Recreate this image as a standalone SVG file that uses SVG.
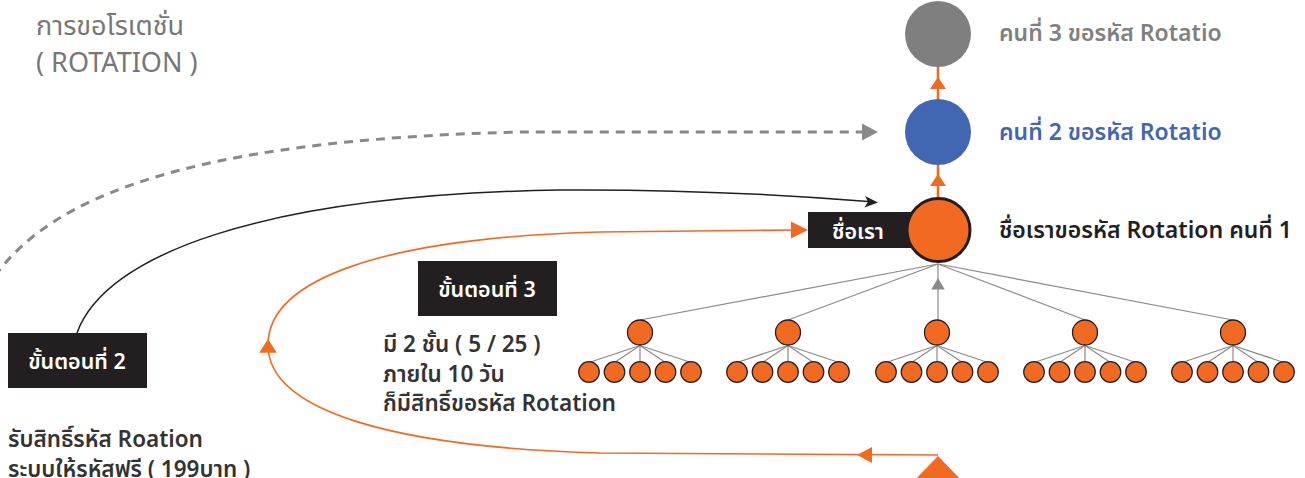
<svg xmlns="http://www.w3.org/2000/svg" width="1305" height="478" viewBox="0 0 1305 478">
<style>
text{font-family:"Noto Sans Thai","Noto Sans","DejaVu Sans",sans-serif}
.title{font-size:27px;fill:#777777}
.lbl{font-size:23px;font-weight:600}
.box{fill:#231f20}
.boxt{font-size:21.5px;font-weight:600;fill:#ffffff}
.body{font-size:22.5px;font-weight:600;fill:#333333}
.l1{fill:#f26a21;stroke:#231f20;stroke-width:1.3}
.l2{fill:#f26a21;stroke:#231f20;stroke-width:1.2}
.tl{stroke:#8a8a8a;stroke-width:1.2;fill:none}
.or{stroke:#f26a21;stroke-width:1.6;fill:none}
.orf{fill:#f26a21}
</style>
<defs>
<path id="up" d="M0,0 L8,12 L-8,12 Z"/>
<g id="grp">
<line class="tl" x1="0" y1="13" x2="-51" y2="30"/>
<line class="tl" x1="0" y1="13" x2="-25.5" y2="30"/>
<line class="tl" x1="0" y1="13" x2="0" y2="30"/>
<line class="tl" x1="0" y1="13" x2="25.5" y2="30"/>
<line class="tl" x1="0" y1="13" x2="51" y2="30"/>
<circle class="l1" cx="0" cy="0" r="12.5"/>
<circle class="l2" cx="-51" cy="39.5" r="10.3"/>
<circle class="l2" cx="-25.5" cy="39.5" r="10.3"/>
<circle class="l2" cx="0" cy="39.5" r="10.3"/>
<circle class="l2" cx="25.5" cy="39.5" r="10.3"/>
<circle class="l2" cx="51" cy="39.5" r="10.3"/>
</g>
</defs>

<g id="title">
<text class="title" x="36" y="35">การขอโรเตชั่น</text>
<text class="title" x="36" y="72">( ROTATION )</text>
</g>

<g id="connectors">
<path d="M-5,276 C50,200 180,140 520,132 L864,132" fill="none" stroke="#898989" stroke-width="3" stroke-dasharray="9 7"/>
<path d="M878,132 L862,123.5 L862,140.5 Z" fill="#898989"/>
<path d="M77,333 C105,255 260,195 560,190 C700,189 800,196 868,201.5" fill="none" stroke="#231f20" stroke-width="1.5"/>
<path d="M878,202.5 L865,196 L868,201.7 L864.5,207.5 Z" fill="#231f20"/>
<path class="or" d="M938,455 L600,453 C390,447 268,410 268,345 C268,280 380,238 600,232 L795,230"/>
<path class="orf" d="M808,230 L791,221.5 L791,238.5 Z"/>
<path class="orf" d="M857,455 L872,447 L872,463 Z"/>
<use href="#up" class="orf" transform="translate(268,339) scale(1.1,1.15)"/>
<path class="orf" d="M938,456 L910,485 L966,485 Z"/>
<line x1="938" y1="67" x2="938" y2="99" stroke="#f26a21" stroke-width="2.6"/>
<use href="#up" class="orf" transform="translate(938,77)"/>
<line x1="938" y1="165" x2="938" y2="198" stroke="#f26a21" stroke-width="2.6"/>
<use href="#up" class="orf" transform="translate(938,174)"/>
<line class="tl" x1="938" y1="264" x2="640" y2="320"/>
<line class="tl" x1="938" y1="264" x2="788" y2="320"/>
<line class="tl" x1="938" y1="264" x2="938" y2="320"/>
<line class="tl" x1="938" y1="264" x2="1085" y2="320"/>
<line class="tl" x1="938" y1="264" x2="1233" y2="320"/>
<use href="#up" fill="#8a8a8a" transform="translate(938,278) scale(0.85,0.95)"/>
</g>

<g id="node3">
<circle cx="938" cy="34" r="33" fill="#7f7f7f"/>
<text class="lbl" x="999" y="41" fill="#808080">คนที่ 3 ขอรหัส Rotatio</text>
</g>
<g id="node2">
<circle cx="938" cy="132" r="33" fill="#4267b2"/>
<text class="lbl" x="999" y="140" fill="#4267b2">คนที่ 2 ขอรหัส Rotatio</text>
</g>
<g id="node1">
<rect class="box" x="808" y="212" width="110" height="36"/>
<text class="boxt" x="858" y="239" text-anchor="middle">ชื่อเรา</text>
<circle cx="938.5" cy="230" r="31.5" fill="#f26a21" stroke="#231f20" stroke-width="3"/>
<text class="lbl" x="999" y="238" fill="#231f20">ชื่อเราขอรหัส Rotation คนที่ 1</text>
</g>

<g id="tree">
<use href="#grp" transform="translate(640,332.5)"/>
<use href="#grp" transform="translate(788,332.5)"/>
<use href="#grp" transform="translate(937,332.5)"/>
<use href="#grp" transform="translate(1085,332.5)"/>
<use href="#grp" transform="translate(1233,332.5)"/>
</g>

<g id="step2">
<rect class="box" x="8" y="333" width="139" height="55"/>
<text class="boxt" x="77" y="369" text-anchor="middle">ขั้นตอนที่ 2</text>
<text class="body" x="8" y="447">รับสิทธิ์รหัส Roation</text>
<text class="body" x="8" y="477">ระบบให้รหัสฟรี ( 199บาท )</text>
</g>

<g id="step3">
<rect class="box" x="418" y="261" width="139" height="55"/>
<text class="boxt" x="487" y="297" text-anchor="middle">ขั้นตอนที่ 3</text>
<text class="body" x="383" y="352">มี 2 ชั้น ( 5 / 25 )</text>
<text class="body" x="383" y="382">ภายใน 10 วัน</text>
<text class="body" x="383" y="411">ก็มีสิทธิ์ขอรหัส Rotation</text>
</g>
</svg>
